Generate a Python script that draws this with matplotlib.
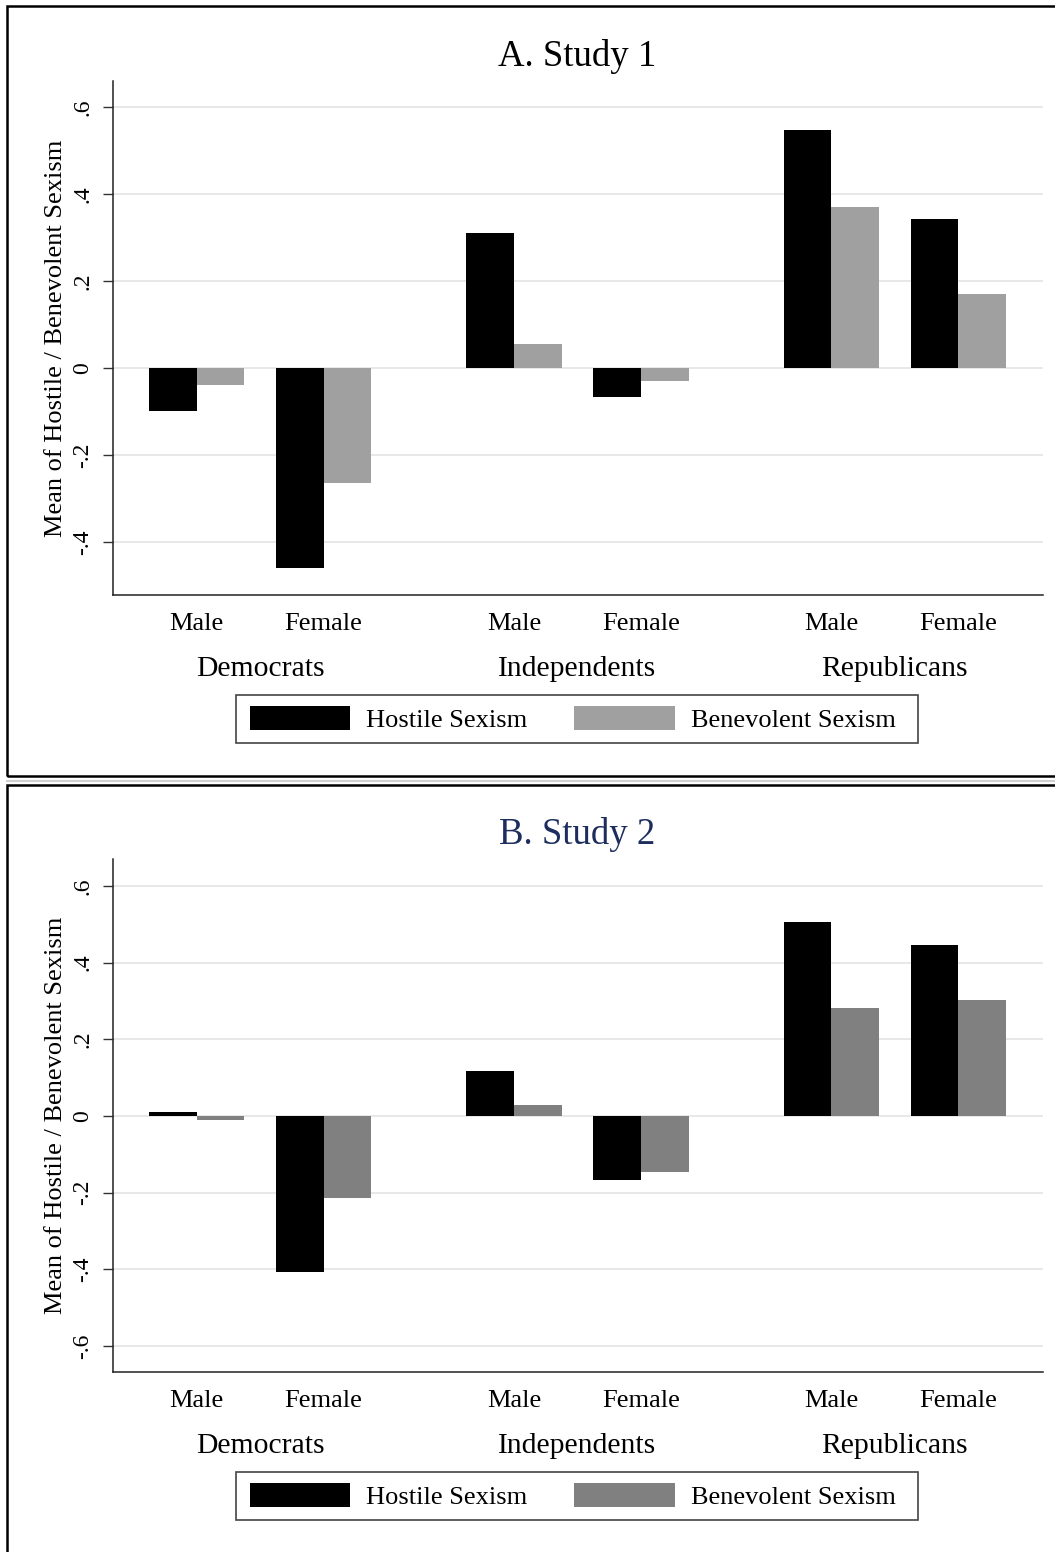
import matplotlib
matplotlib.use("Agg")
import matplotlib.pyplot as plt
from matplotlib.patches import Patch, Rectangle

plt.rcParams["font.family"] = ["Liberation Serif", "DejaVu Serif"]

parties = ["Democrats", "Independents", "Republicans"]
sexes = ["Male", "Female"]

# mean scores, ordered Dem M, Dem F, Ind M, Ind F, Rep M, Rep F
study1_hostile = [-0.100, -0.460, 0.310, -0.067, 0.547, 0.343]
study1_benevolent = [-0.038, -0.265, 0.055, -0.029, 0.370, 0.170]
study2_hostile = [0.010, -0.407, 0.117, -0.167, 0.507, 0.446]
study2_benevolent = [-0.011, -0.214, 0.029, -0.146, 0.282, 0.303]

ytick_vals1 = [-0.4, -0.2, 0, 0.2, 0.4, 0.6]
ytick_vals2 = [-0.6, -0.4, -0.2, 0, 0.2, 0.4, 0.6]

W, H = 1055, 1552
fig = plt.figure(figsize=(W / 100, H / 100), dpi=100)

INNER_GAP = 0.667   # gap between Male/Female pairs (bar widths)
OUTER_GAP = 2.0     # gap between party groups
GROUP_W = 2 * 2 + INNER_GAP


def tick_fmt(v):
    if abs(v) < 1e-9:
        return "0"
    s = f"{v:.1f}"
    return s.replace("0.", ".")


def px_axes(left, top, right, bottom):
    return fig.add_axes([left / W, 1 - bottom / H, (right - left) / W, (bottom - top) / H])


def px_box(left, top, right, bottom, **kw):
    r = Rectangle((left / W, 1 - bottom / H), (right - left) / W, (bottom - top) / H,
                  transform=fig.transFigure, fill=False, **kw)
    fig.patches.append(r)
    return r


def draw_panel(top, bottom, ylim, yticks, hostile, benevolent, benev_color,
               title, title_color, title_y, legend_y):
    ax = px_axes(113, top, 1043, bottom)
    lefts = []
    for g in range(len(parties)):
        for s in range(len(sexes)):
            lefts.append(g * (GROUP_W + OUTER_GAP) + s * (2 + INNER_GAP))
    hx = [l + 0.5 for l in lefts]
    bx = [l + 1.5 for l in lefts]
    ax.bar(hx, hostile, width=1.0, color="black", zorder=3)
    ax.bar(bx, benevolent, width=1.0, color=benev_color, zorder=3)

    ax.set_xlim(-0.756, 18.78)
    ax.set_ylim(*ylim)
    ax.set_yticks(yticks)
    ax.set_yticklabels([tick_fmt(v) for v in yticks], rotation=90, va="center",
                       fontsize=17)
    ax.tick_params(axis="y", length=7, width=1, pad=7, color="#333333")
    ax.set_xticks([])
    ax.grid(axis="y", color="#e8e8e8", lw=1.4, zorder=0)
    for side in ("top", "right"):
        ax.spines[side].set_visible(False)
    for side in ("left", "bottom"):
        ax.spines[side].set_linewidth(1.1)
        ax.spines[side].set_color("#222222")
    ax.set_ylabel("Mean of Hostile / Benevolent Sexism", fontsize=19, labelpad=4)

    for i, l in enumerate(lefts):
        ax.annotate(sexes[i % 2], xy=(l + 1, 0), xycoords=("data", "axes fraction"),
                    xytext=(0, -20.9), textcoords="offset points",
                    ha="center", va="center", fontsize=19)
    for g, name in enumerate(parties):
        cx = g * (GROUP_W + OUTER_GAP) + GROUP_W / 2
        ax.annotate(name, xy=(cx, 0), xycoords=("data", "axes fraction"),
                    xytext=(0, -53), textcoords="offset points",
                    ha="center", va="center", fontsize=21.3)

    fig.text(577 / W, 1 - title_y / H, title, ha="center", va="center",
             fontsize=26.5, color=title_color)

    handles = [Patch(facecolor="black", label="Hostile Sexism"),
               Patch(facecolor=benev_color, label="Benevolent Sexism")]
    ax.legend(handles=handles, loc="center", ncol=2,
              bbox_to_anchor=(572.5 / W, 1 - legend_y / H),
              bbox_transform=fig.transFigure, fontsize=19,
              handlelength=3.8, handleheight=1.0, handletextpad=0.6,
              columnspacing=1.8, borderpad=0.45, frameon=False)
    px_box(236, legend_y - 24, 918, legend_y + 24, edgecolor="#444444", lw=1.2)
    return ax


draw_panel(81, 595, (-0.522, 0.660), ytick_vals1, study1_hostile, study1_benevolent,
           "#a0a0a0", "A. Study 1", "black", 57, 719)
draw_panel(859, 1372, (-0.668, 0.6705), ytick_vals2, study2_hostile, study2_benevolent,
           "#808080", "B. Study 2", "#1c2d5e", 835, 1496)

# panel frames
for y0, y1 in [(6, 776), (785, 1570)]:
    px_box(7, y0, 1070, y1, edgecolor="black", lw=1.8)
fig.add_artist(plt.Line2D([7 / W, 1], [1 - 781 / H] * 2, color="#d0d0d0", lw=1.5,
                          transform=fig.transFigure))

fig.savefig("out.png", dpi=100)
